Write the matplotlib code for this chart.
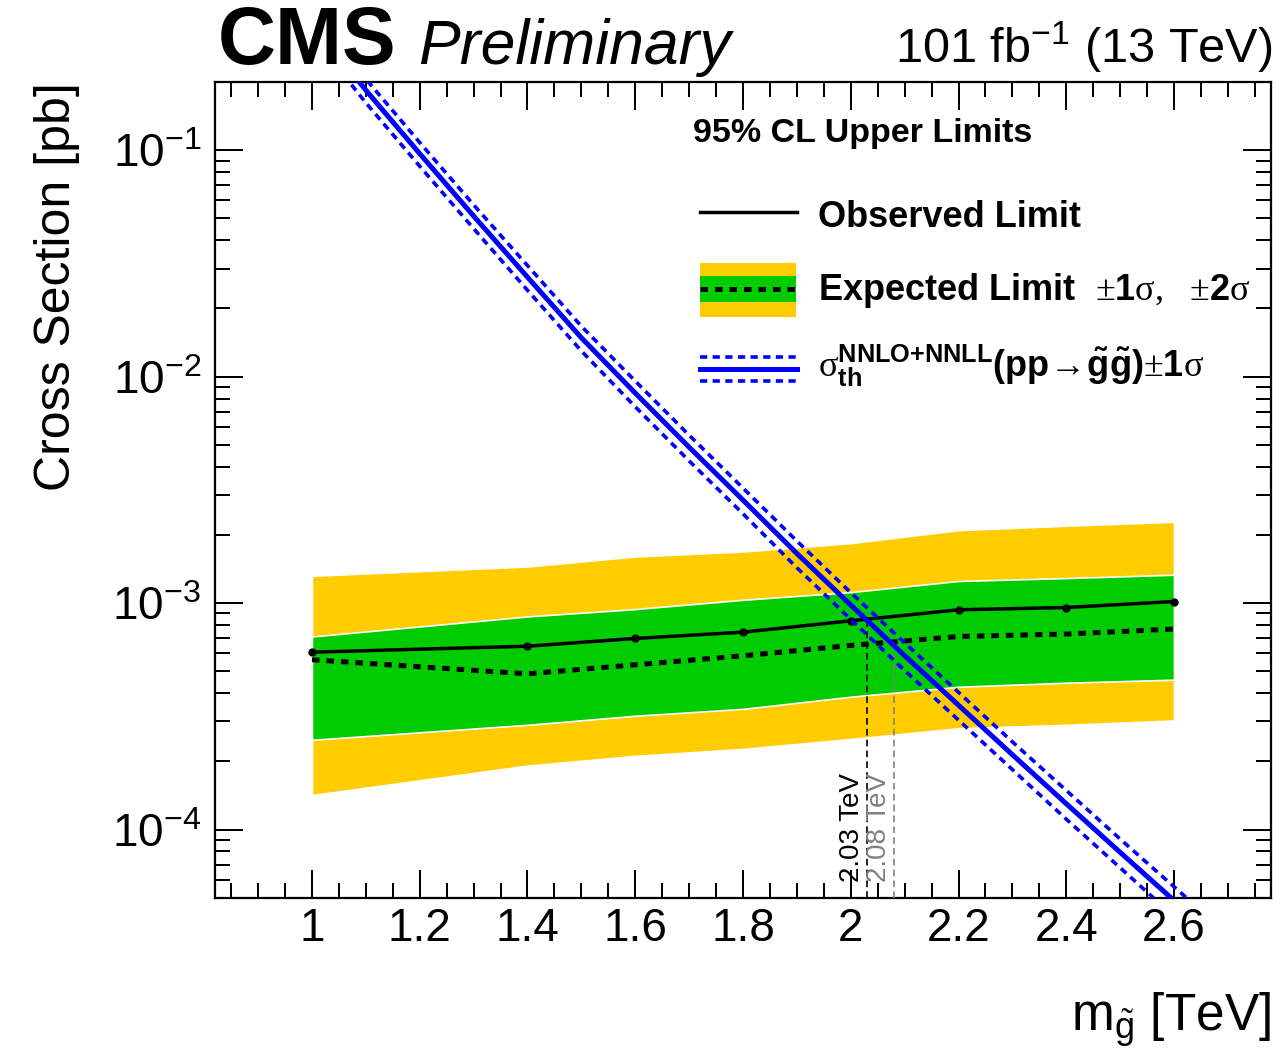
import numpy as np
import matplotlib
matplotlib.use("Agg")
import matplotlib.pyplot as plt
from matplotlib.lines import Line2D
from matplotlib.patches import Rectangle
from matplotlib.ticker import MultipleLocator, FuncFormatter, LogLocator, NullFormatter

plt.rcParams['font.family'] = ['Liberation Sans', 'DejaVu Sans']
plt.rcParams['mathtext.fontset'] = 'custom'
plt.rcParams['mathtext.rm'] = 'Liberation Serif'
plt.rcParams['mathtext.sf'] = 'Liberation Sans'
plt.rcParams['mathtext.bf'] = 'Liberation Sans:bold'
plt.rcParams['mathtext.it'] = 'Liberation Sans:italic'

# gluino mass points of the limit scan [TeV]
mass = [1.0, 1.4, 1.6, 1.8, 2.0, 2.2, 2.4, 2.6]
# 95% CL upper limits on the cross section [pb]
obs_limit = [6.07e-4, 6.45e-4, 6.98e-4, 7.44e-4, 8.35e-4, 9.34e-4, 9.56e-4, 1.016e-3]
exp_limit = [5.62e-4, 4.87e-4, 5.34e-4, 5.85e-4, 6.50e-4, 7.12e-4, 7.30e-4, 7.68e-4]
exp_p1 = [7.12e-4, 8.73e-4, 9.41e-4, 1.034e-3, 1.118e-3, 1.252e-3, 1.290e-3, 1.334e-3]
exp_m1 = [2.49e-4, 2.90e-4, 3.18e-4, 3.41e-4, 3.86e-4, 4.27e-4, 4.45e-4, 4.59e-4]
exp_p2 = [1.32e-3, 1.451e-3, 1.606e-3, 1.69e-3, 1.84e-3, 2.10e-3, 2.196e-3, 2.287e-3]
exp_m2 = [1.42e-4, 1.916e-4, 2.114e-4, 2.27e-4, 2.51e-4, 2.80e-4, 2.90e-4, 3.03e-4]

# gluino pair production cross section (NNLO+NNLL) and its relative uncertainty
mass_th = [1.0, 1.1, 1.2, 1.3, 1.4, 1.5, 1.6, 1.7, 1.8, 1.9,
           2.0, 2.1, 2.2, 2.3, 2.4, 2.5, 2.6, 2.7]
xsec_th = [0.365, 0.184, 0.0965, 0.0512, 0.0275, 0.01484, 0.00846, 0.00488,
           0.00285, 0.001656, 9.8e-4, 5.86e-4, 3.54e-4, 2.14e-4, 1.30e-4,
           7.93e-5, 4.86e-5, 2.99e-5]
xsec_unc = [0.12, 0.12, 0.12, 0.12, 0.125, 0.125, 0.13, 0.13, 0.13, 0.135,
            0.135, 0.14, 0.14, 0.14, 0.145, 0.145, 0.15, 0.15]

# mass limits quoted on the plot [TeV]
obs_mass_limit = 2.03
exp_mass_limit = 2.08

W, H = 1281, 1052
fig = plt.figure(figsize=(W / 100, H / 100), dpi=100)
ax_l, ax_r, ax_t, ax_b = 215, 1271, 82, 897.7
ax = fig.add_axes([ax_l / W, 1 - ax_b / H, (ax_r - ax_l) / W, (ax_b - ax_t) / H])
ax.set_yscale('log')
ax.set_xlim(0.82, 2.78)
ax.set_ylim(5e-5, 0.2)

YELLOW = '#FFCC00'
GREEN = '#00CC00'
BLUE = '#0000FF'

ax.fill_between(mass, exp_m2, exp_p2, facecolor=YELLOW, edgecolor='white', lw=1.2, zorder=1)
ax.fill_between(mass, exp_m1, exp_p1, facecolor=GREEN, edgecolor='white', lw=1.2, zorder=2)
ax.plot(mass, exp_limit, color='black', lw=3.6, dashes=(1.5, 1.4), zorder=3)
ax.plot(mass, obs_limit, color='black', lw=2.5, marker='o', ms=5, zorder=4)

xs = np.array(xsec_th)
us = np.array(xsec_unc)
ax.plot(mass_th, xs, color=BLUE, lw=3.6, zorder=5)
ax.plot(mass_th, xs * (1 + us), color=BLUE, lw=2.6, dashes=(2.0, 1.5), zorder=5)
ax.plot(mass_th, xs * (1 - us), color=BLUE, lw=2.6, dashes=(2.0, 1.5), zorder=5)

# vertical markers at the mass limits
y_obs = 10 ** np.interp(obs_mass_limit, mass, np.log10(obs_limit))
y_exp = 10 ** np.interp(exp_mass_limit, mass, np.log10(exp_limit))
ax.plot([obs_mass_limit, obs_mass_limit], [5e-5, y_obs], color='black', lw=1.2,
        dashes=(4, 2.5), zorder=3.5)
ax.plot([exp_mass_limit, exp_mass_limit], [5e-5, y_exp], color='#808080', lw=1.2,
        dashes=(4, 2.5), zorder=3.5)
ax.text(obs_mass_limit - 0.003, 5.85e-5, f'{obs_mass_limit:.2f} TeV', rotation=90,
        ha='right', va='bottom', fontsize=20, color='black', zorder=6)
ax.text(exp_mass_limit - 0.003, 5.85e-5, f'{exp_mass_limit:.2f} TeV', rotation=90,
        ha='right', va='bottom', fontsize=20, color='#808080', zorder=6)

# axes styling
ax.xaxis.set_major_locator(MultipleLocator(0.2))
ax.xaxis.set_minor_locator(MultipleLocator(0.05))
ax.xaxis.set_major_formatter(FuncFormatter(lambda v, p: f'{v:g}'))
ax.yaxis.set_major_locator(LogLocator(base=10, numticks=20))
ax.yaxis.set_minor_locator(LogLocator(base=10, subs=np.arange(2, 10), numticks=20))
ax.yaxis.set_minor_formatter(NullFormatter())
ax.tick_params(which='both', direction='in', top=True, right=True, width=1.44)
ax.tick_params(which='major', length=20.5, labelsize=33)
ax.tick_params(axis='x', which='major', pad=7)
ax.tick_params(axis='y', which='major', pad=10)
ax.tick_params(which='minor', length=11)
for s in ax.spines.values():
    s.set_linewidth(1.6)

ax.set_ylabel('Cross Section [pb]', fontsize=36, loc='top')
ax.yaxis.set_label_coords(-0.128, 1.0)
ax.set_xlabel(r'm$_{\tilde{\mathsf{g}}}$ [TeV]', fontsize=37, loc='right')
ax.xaxis.set_label_coords(1.0, -0.113)

# header
fig.text(218 / W, 1 - 64 / H, 'CMS', fontsize=58, fontweight='bold', va='baseline')
fig.text(418 / W, 1 - 64 / H, 'Preliminary', fontsize=45, fontstyle='italic', va='baseline')
fig.text(1272 / W, 1 - 63 / H, r'101 fb$^{\mathsf{-1}}$ (13 TeV)', fontsize=35,
         ha='right', va='baseline')

# legend
def fx(px):
    return px / W

def fy(py):
    return 1 - py / H

fig.text(fx(693), fy(142), '95% CL Upper Limits', fontsize=24.5, fontweight='bold', va='baseline')

fig.add_artist(Line2D([fx(699.5), fx(796.5)], [fy(212), fy(212)], color='black', lw=2.5))
fig.text(fx(818), fy(226.7), 'Observed Limit', fontsize=26, fontweight='bold', va='baseline')

fig.add_artist(Rectangle((fx(700), fy(317)), fx(796) - fx(700), fy(263) - fy(317),
                         transform=fig.transFigure, facecolor=YELLOW, edgecolor='none'))
fig.add_artist(Rectangle((fx(700), fy(302)), fx(796) - fx(700), fy(276) - fy(302),
                         transform=fig.transFigure, facecolor=GREEN, edgecolor='none'))
fig.add_artist(Line2D([fx(700), fx(796)], [fy(289), fy(289)], color='black', lw=3.6,
                      dashes=(1.5, 1.4)))
fig.text(fx(818), fy(300),
         r'Expected Limit  ${\pm}\mathbf{1}\mathrm{\sigma},\ \ {\pm}\mathbf{2}\mathrm{\sigma}$',
         fontsize=26, fontweight='bold', va='baseline')

fig.add_artist(Line2D([fx(700), fx(797)], [fy(356.7), fy(356.7)], color=BLUE, lw=2.6,
                      dashes=(2.0, 1.5)))
fig.add_artist(Line2D([fx(700), fx(797)], [fy(381), fy(381)], color=BLUE, lw=2.6,
                      dashes=(2.0, 1.5)))
fig.add_artist(Line2D([fx(700), fx(797)], [fy(368.7), fy(368.7)], color=BLUE, lw=3.6))
fig.text(fx(818), fy(377),
         r'$\mathrm{\sigma}_{\mathbf{th}}^{\mathbf{NNLO{+}NNLL}}\mathbf{(pp}\!\mathbf{\rightarrow}\!'
         r'\mathbf{\tilde{g}\tilde{g})}{\pm}\mathbf{1}\mathrm{\sigma}$',
         fontsize=26, va='baseline')

fig.savefig('out.png', dpi=100)
